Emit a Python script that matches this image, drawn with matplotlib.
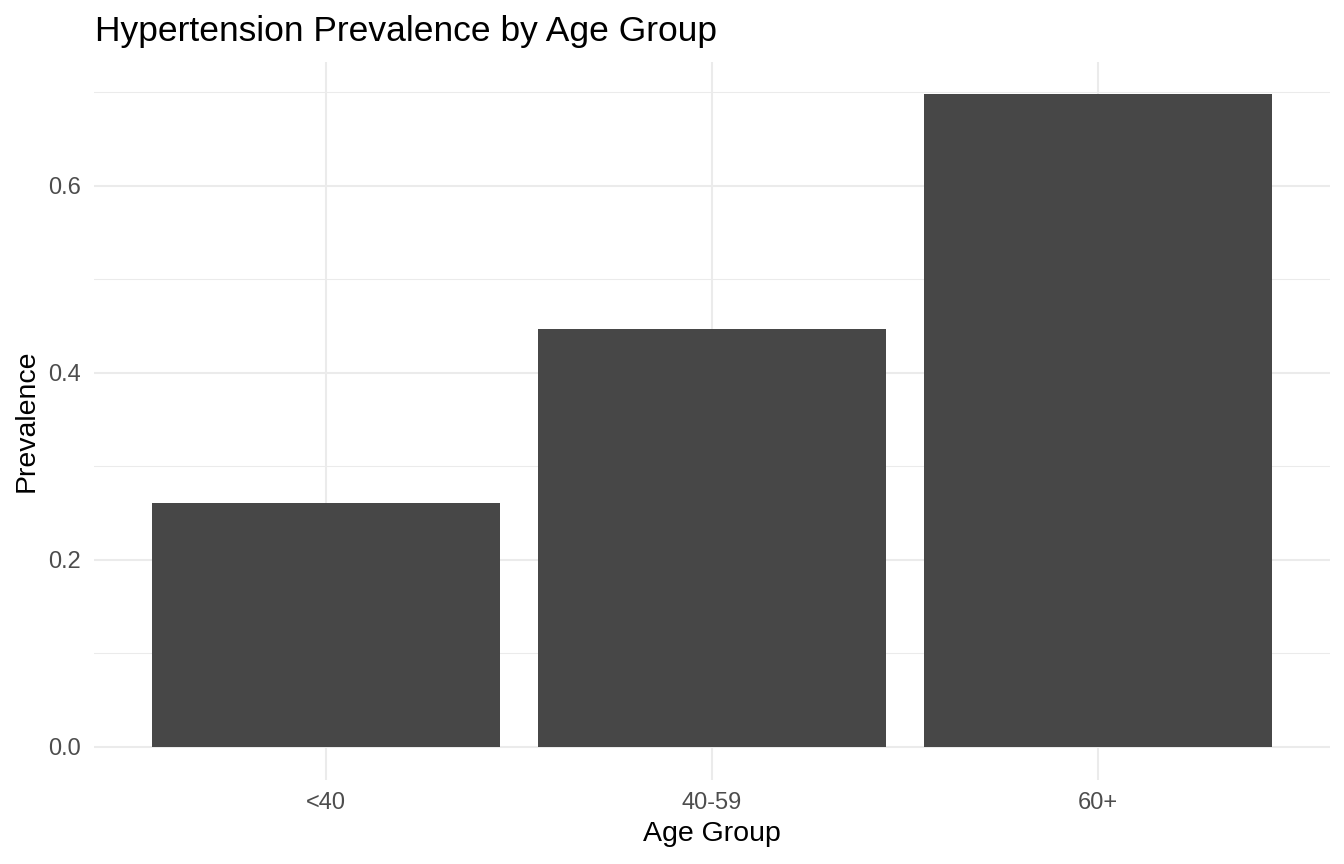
import matplotlib
matplotlib.use("Agg")
import matplotlib.pyplot as plt
from matplotlib.ticker import MultipleLocator

categories = ["<40", "40-59", "60+"]
prevalence = [0.261, 0.447, 0.698]
y_ticks = [0.0, 0.2, 0.4, 0.6]
y_tick_labels = ["0.0", "0.2", "0.4", "0.6"]

plt.rcParams['font.family'] = ['Liberation Sans', 'DejaVu Sans']

W, H = 1344, 864
fig = plt.figure(figsize=(W/100, H/100), dpi=100)
left, right, top, bottom = 94.4, 1329.6, 61.7, 779.6
ax = fig.add_axes([left/W, (H-bottom)/H, (right-left)/W, (bottom-top)/H])

x = list(range(1, len(categories)+1))
ax.bar(x, prevalence, width=0.9, color="#474747", zorder=3)

ymax = max(prevalence)
ax.set_xlim(0.4, len(categories)+0.6)
ax.set_ylim(-0.05*ymax, ymax*1.05)

ax.set_xticks(x)
ax.set_xticklabels(categories)
ax.set_yticks(y_ticks)
ax.set_yticklabels(y_tick_labels)
ax.yaxis.set_minor_locator(MultipleLocator(0.1))

ax.grid(True, which="major", color="#EBEBEB", linewidth=1.5, zorder=0)
ax.grid(True, which="minor", axis="y", color="#EBEBEB", linewidth=0.75, zorder=0)
for s in ax.spines.values():
    s.set_visible(False)
ax.tick_params(which="both", length=0)
ax.tick_params(axis="both", labelsize=17, labelcolor="#4D4D4D")
ax.tick_params(axis="x", pad=9)
ax.tick_params(axis="y", pad=9.5)

fig.text((left+right)/2/W, (H-841)/H, "Age Group", fontsize=20.5,
         color="black", ha="center", va="baseline")
fig.text(27/W, (H-(top+bottom)/2)/H, "Prevalence", fontsize=20.5,
         color="black", ha="center", va="center", rotation=90)
fig.text(95/W, (H-41)/H, "Hypertension Prevalence by Age Group", fontsize=25.5,
         color="black", ha="left", va="baseline")

fig.savefig("out.png", dpi=100, facecolor="white")
